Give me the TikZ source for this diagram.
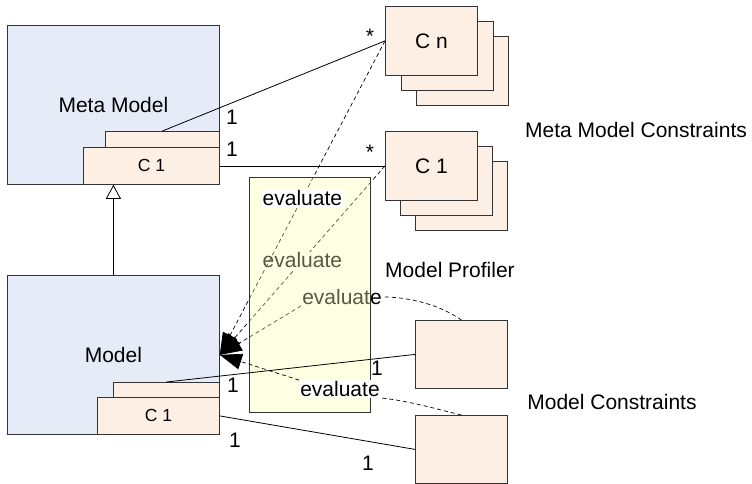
\documentclass[tikz,border=0pt]{standalone}
\usepackage{fontspec}
\setmainfont{Liberation Sans}
\usetikzlibrary{arrows.meta}
\definecolor{modelblue}{RGB}{230,236,247}
\definecolor{constrpeach}{RGB}{253,239,228}
\definecolor{profileryellow}{RGB}{255,255,180}
\begin{document}
\begin{tikzpicture}[x=1pt, y=-1pt,
    box/.style={draw=black!80, line width=0.8pt, inner sep=0pt, anchor=north west},
    modelbox/.style={box, fill=modelblue, font=\fontsize{21}{24}\selectfont},
    constrbox/.style={box, fill=constrpeach, minimum width=92pt, minimum height=69pt, font=\fontsize{21}{24}\selectfont},
    innerbox/.style={box, fill=constrpeach, minimum height=37pt, font=\fontsize{17.5}{20}\selectfont},
    txt/.style={font=\fontsize{21}{24}\selectfont, inner sep=1pt},
    evallabel/.style={txt, fill=white},
    evalarrow/.style={dash pattern=on 4pt off 3pt, line width=0.7pt, -{Triangle[length=22pt,width=16pt]}},
    assoc/.style={line width=0.8pt}]
    \clip (0,0) rectangle (752,483);
    \fill[white] (0,0) rectangle (752,483);

    % meta model and model
    \node[modelbox, minimum width=212pt, minimum height=159pt] (metamodel) at (7,25) {Meta Model};
    \node[innerbox, minimum width=114pt] (mmback) at (105,131) {};
    \node[innerbox, minimum width=136pt] (mmcone) at (83,147) {C 1};
    \node[modelbox, minimum width=212pt, minimum height=159pt] (model) at (7,275) {Model};
    \node[innerbox, minimum width=106pt] (mback) at (113,382) {};
    \node[innerbox, minimum width=122pt] (mcone) at (97,397) {C 1};

    % meta model constraints
    \foreach \s in {2,1} {
        \node[constrbox] at (385+15.5*\s, 6+15*\s) {};
        \node[constrbox] at (385+15*\s, 131+15*\s) {};
    }
    \node[constrbox] (cn) at (385,6) {C n};
    \node[constrbox] (cone) at (385,131) {C 1};

    % model constraints
    \node[constrbox, minimum height=68pt] (mconone) at (415,320) {};
    \node[constrbox, minimum height=68pt] (mcontwo) at (415,415) {};

    % evaluations behind the profiler
    \draw[evalarrow] (cone.west) -- node[evallabel] (evtwo) {evaluate} (model.east);
    \draw[evalarrow] (cn.west) -- coordinate[midway] (evmid) (model.east);
    \node[evallabel] (evthree) at (342,297) {evaluate};
    \draw[dash pattern=on 4pt off 3pt, line width=0.7pt]
        (mconone.north) .. controls (440,305) and (410,297) .. (evthree.east);
    \draw[evalarrow] (evthree.south west) -- (model.east);

    % profiler
    \node[box, fill=profileryellow, fill opacity=0.35, minimum width=121pt, minimum height=235pt] (profiler) at (249,177) {};
    \node[evallabel] (evone) at (evmid) {evaluate};
    \node[evallabel] (evfour) at (340,389) {evaluate};
    \draw[dash pattern=on 4pt off 3pt, line width=0.7pt]
        (mcontwo.north) .. controls (440,410) and (410,401) .. (evfour.south east);
    \draw[evalarrow] (evfour.north west) -- (model.east);

    % associations
    \draw[assoc] (mmback.north) -- (cn.west);
    \draw[assoc] (mmcone.east) -- (cone.west);
    \draw[assoc] (mback.north) -- (mconone.west);
    \draw[assoc] (mcone.east) -- (mcontwo.west);
    \draw[assoc, -{Triangle[open, fill=white, length=14pt, width=15pt]}] (model.north) -- (metamodel.south);

    % multiplicities
    \node[txt] at (370,36) {*};
    \node[txt] at (370,152) {*};
    \node[txt] at (232,117) {1};
    \node[txt] at (232,149) {1};
    \node[txt] at (233,385) {1};
    \node[txt] at (377,368) {1};
    \node[txt] at (235,440) {1};
    \node[txt] at (368,463) {1};

    % region labels
    \node[txt] (mmconstr) at (636,130) {Meta Model Constraints};
    \node[txt] (proflabel) at (450,270) {Model Profiler};
    \node[txt] (mconstr) at (612,402) {Model Constraints};
\end{tikzpicture}
\end{document}
